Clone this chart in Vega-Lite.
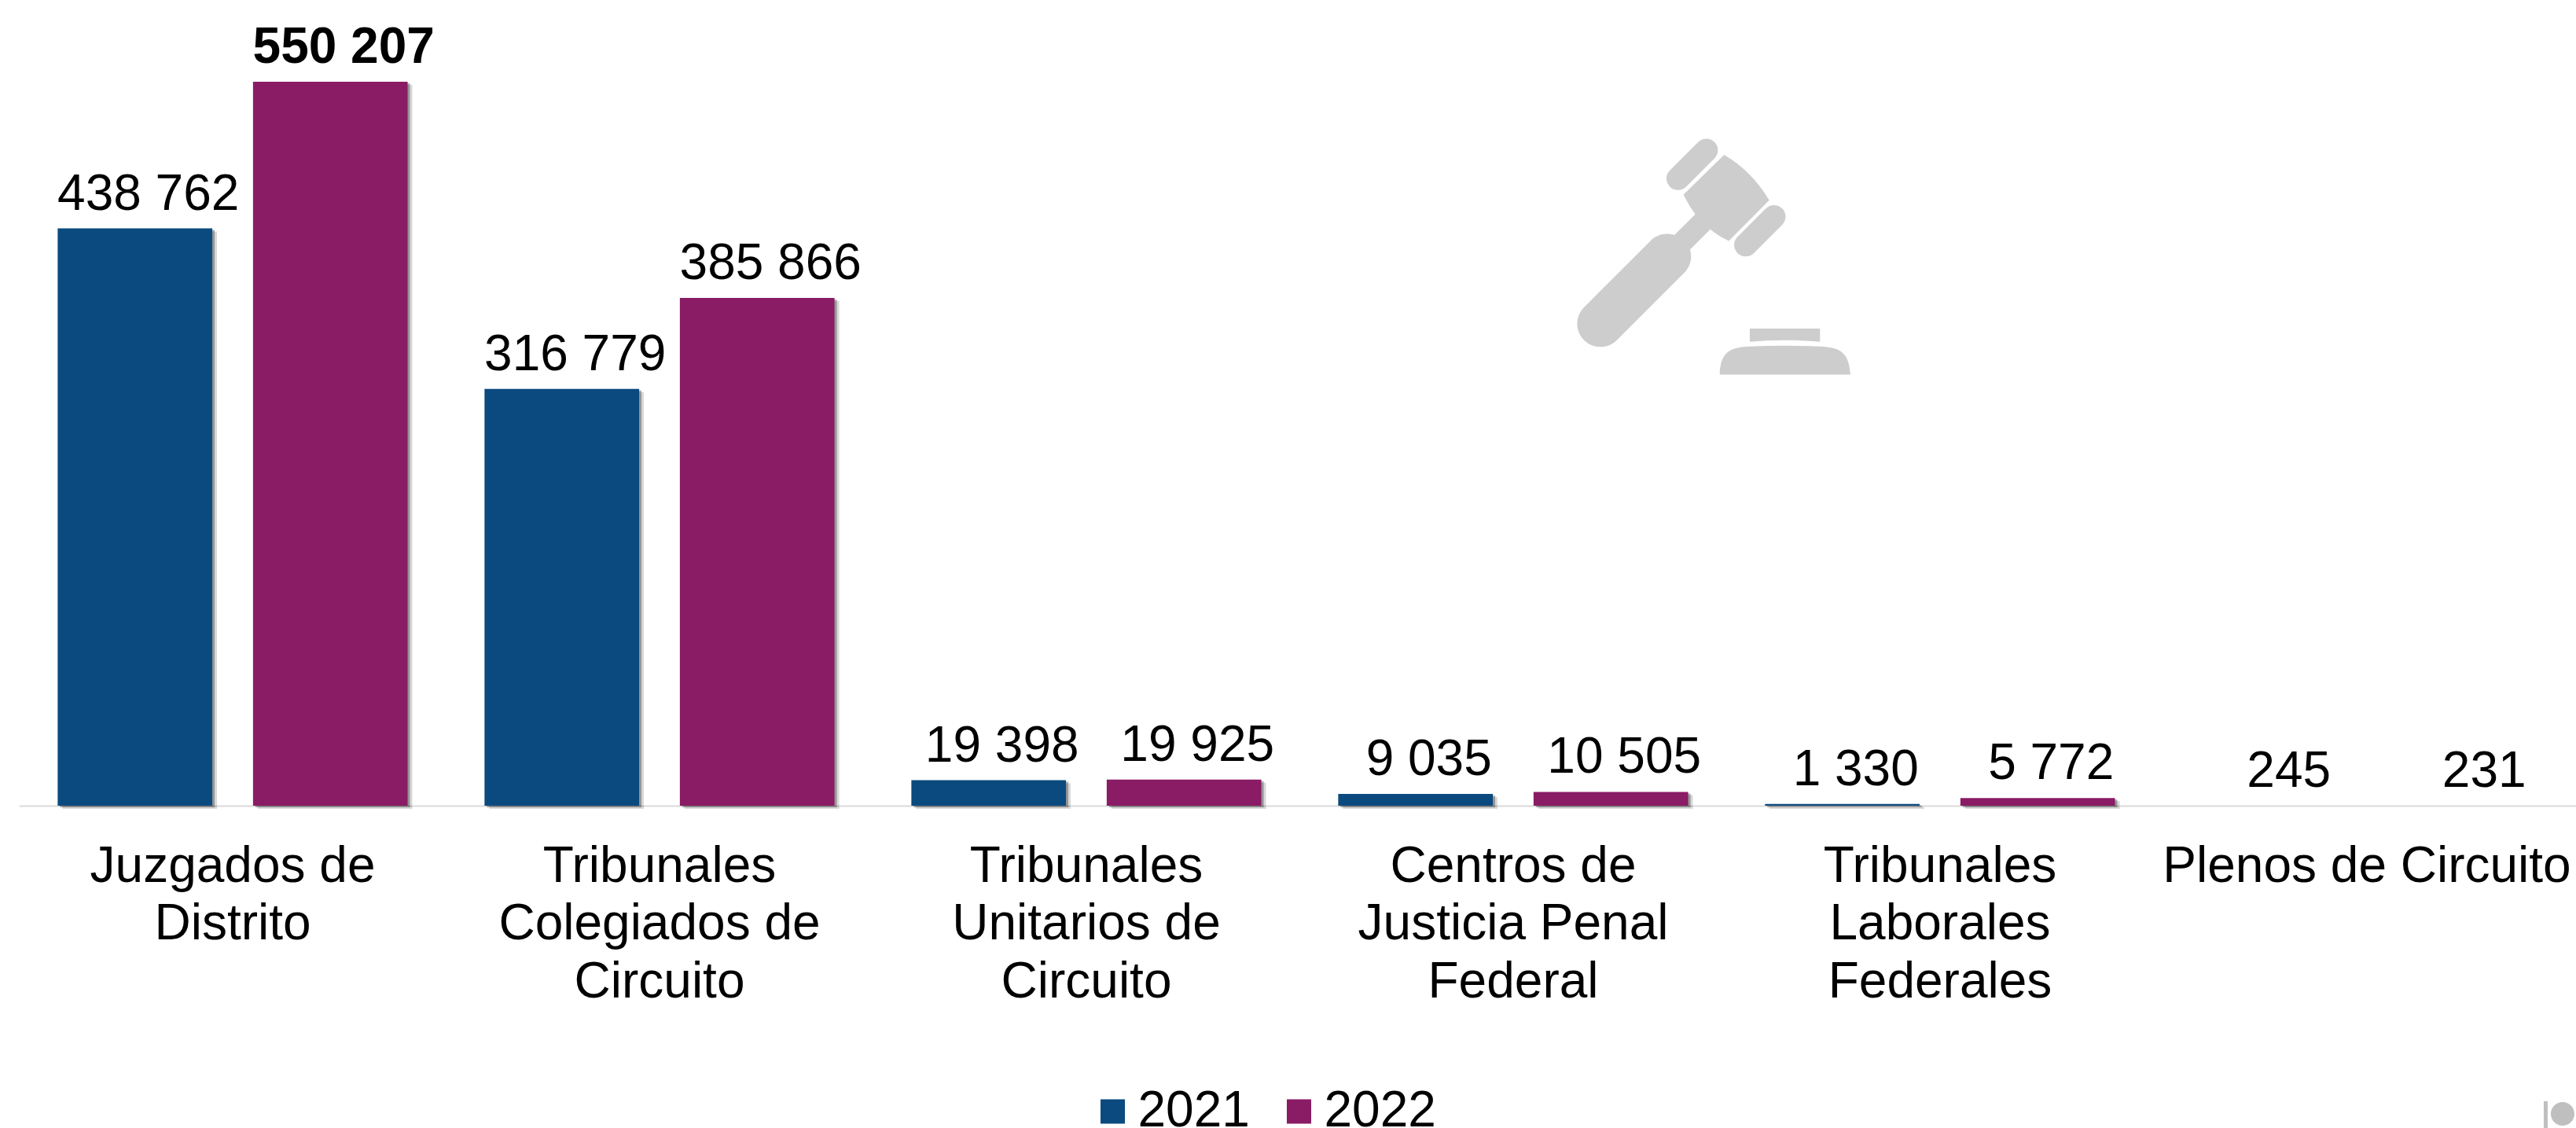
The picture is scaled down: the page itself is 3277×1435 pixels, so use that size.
{
"$schema":"https://vega.github.io/schema/vega-lite/v6.json",
"width":3252.5,"height":1025,
"autosize":{"type":"none"},
"padding":{"left":24.5,"top":0,"right":0,"bottom":410},
"background":"white",
"config":{"view":{"stroke":null},"font":"Liberation Sans"},
"datasets":{"bars":[
{"organo":"Juzgados de Distrito","anio":"2021","valor":438762,"etiqueta":"438 762"},
{"organo":"Juzgados de Distrito","anio":"2022","valor":550207,"etiqueta":"550 207"},
{"organo":"Tribunales Colegiados de Circuito","anio":"2021","valor":316779,"etiqueta":"316 779"},
{"organo":"Tribunales Colegiados de Circuito","anio":"2022","valor":385866,"etiqueta":"385 866"},
{"organo":"Tribunales Unitarios de Circuito","anio":"2021","valor":19398,"etiqueta":"19 398"},
{"organo":"Tribunales Unitarios de Circuito","anio":"2022","valor":19925,"etiqueta":"19 925"},
{"organo":"Centros de Justicia Penal Federal","anio":"2021","valor":9035,"etiqueta":"9 035"},
{"organo":"Centros de Justicia Penal Federal","anio":"2022","valor":10505,"etiqueta":"10 505"},
{"organo":"Tribunales Laborales Federales","anio":"2021","valor":1330,"etiqueta":"1 330"},
{"organo":"Tribunales Laborales Federales","anio":"2022","valor":5772,"etiqueta":"5 772"},
{"organo":"Plenos de Circuito","anio":"2021","valor":245,"etiqueta":"245"},
{"organo":"Plenos de Circuito","anio":"2022","valor":231,"etiqueta":"231"}
]},
"data":{"name":"bars"},
"encoding":{
"x":{"field":"organo","type":"nominal","sort":null,"title":null,
"scale":{"range":[0,3258],"paddingInner":0.18,"paddingOuter":0.09},
"axis":{"labelAngle":0,"labelFontSize":64,"labelColor":"#000000","labelFont":"Liberation Sans","labelLineHeight":73.5,"labelPadding":45,"labelLimit":0,"labelBaseline":"top","ticks":false,"domainColor":"#d9d9d9","domainWidth":2,
"labelExpr":"datum.value=='Juzgados de Distrito'?['Juzgados de','Distrito']:datum.value=='Tribunales Colegiados de Circuito'?['Tribunales','Colegiados de','Circuito']:datum.value=='Tribunales Unitarios de Circuito'?['Tribunales','Unitarios de','Circuito']:datum.value=='Centros de Justicia Penal Federal'?['Centros de','Justicia Penal','Federal']:datum.value=='Tribunales Laborales Federales'?['Tribunales','Laborales','Federales']:datum.value"}},
"y":{"field":"valor","type":"quantitative","scale":{"domain":[0,612300],"nice":false},"axis":null}
},
"resolve":{"scale":{"xOffset":"independent"}},
"layer":[
{"transform":[{"filter":"datum.valor>=1000"}],
 "mark":{"type":"bar","color":"#000000","opacity":0.15,"yOffset":4},
 "encoding":{"xOffset":{"field":"anio","type":"nominal","scale":{"domain":["2021","2022"],"range":[6,451.2],"paddingInner":0.2085,"paddingOuter":0}}}},
{"transform":[{"filter":"datum.valor>=1000"}],
 "mark":{"type":"bar","color":"#000000","opacity":0.3,"yOffset":2},
 "encoding":{"xOffset":{"field":"anio","type":"nominal","scale":{"domain":["2021","2022"],"range":[3,448.2],"paddingInner":0.2085,"paddingOuter":0}}}},
{"transform":[{"filter":"datum.valor>=1000"}],
 "mark":{"type":"bar"},
 "encoding":{"xOffset":{"field":"anio","type":"nominal","scale":{"domain":["2021","2022"],"range":[0,445.2],"paddingInner":0.2085,"paddingOuter":0}},
 "color":{"field":"anio","type":"nominal","scale":{"domain":["2021","2022"],"range":["#0a4a7f","#8a1b65"]},
 "legend":{"title":null,"orient":"none","legendX":1359,"legendY":1382,"direction":"horizontal","symbolType":"square","symbolSize":961,"symbolStrokeWidth":0,"labelFontSize":64,"labelColor":"#000000","labelFont":"Liberation Sans","labelOffset":0,"columnPadding":30}}}},
{"transform":[{"filter":"datum.organo!='Plenos de Circuito' && datum.valor<550000"}],
 "mark":{"type":"text","fontSize":64,"color":"#000000","baseline":"alphabetic","dx":17,"dy":-24},
 "encoding":{"text":{"field":"etiqueta"},"xOffset":{"field":"anio","type":"nominal","scale":{"domain":["2021","2022"],"range":[98.35,346.85],"padding":0}}}},
{"transform":[{"filter":"datum.valor>550000"}],
 "mark":{"type":"text","fontSize":64,"fontWeight":"bold","color":"#000000","baseline":"alphabetic","dx":17,"dy":-24},
 "encoding":{"text":{"field":"etiqueta"},"xOffset":{"field":"anio","type":"nominal","scale":{"domain":["2021","2022"],"range":[98.35,346.85],"padding":0}}}},
{"transform":[{"filter":"datum.organo=='Plenos de Circuito'"}],
 "mark":{"type":"text","fontSize":64,"color":"#000000","baseline":"alphabetic","dx":25,"dy":-24},
 "encoding":{"text":{"field":"etiqueta"},"xOffset":{"field":"anio","type":"nominal","scale":{"domain":["2021","2022"],"range":[98.35,346.85],"padding":0}}}},
{"data":{"values":[{"organo":"Centros de Justicia Penal Federal","valor":300000}]},
 "encoding":{"x":{"field":"organo","type":"nominal","sort":null,"title":null},"xOffset":{"value":197.6},"y":{"field":"valor","type":"quantitative"}},
 "mark":{"type":"point","filled":true,"opacity":1,"size":4,"color":"#cdcdcd","strokeWidth":0,"yOffset":-383,
 "shape":"M260.3,40.9A14.7,14.7 0 0 1 281.1,61.7L245.1,97.7A14.7,14.7 0 0 1 224.3,76.9ZM346.4,125.4A14.7,14.7 0 0 1 367.2,146.2L331.2,182.2A14.7,14.7 0 0 1 310.4,161.4ZM293.3,57.3Q328,77.2 350.7,115L299.3,166.7Q286.7,161 275.7,152L250,177.7A29.5,29.5 0 0 1 240.9,208.9L156.9,292.9A29.5,29.5 0 0 1 115.1,251.1L199.1,167.1A29.5,29.5 0 0 1 230,159.3L256.7,132.7Q248.3,121.7 241.7,107.7ZM326,278.3H415.3V295Q370,291 326,295ZM287.7,336.7C289,310 298,302 326,301Q370,299 415,301C443,302 452,310 454,336.7Z"}},
{"data":{"values":[{"organo":"Plenos de Circuito","valor":0}]},
 "encoding":{"x":{"field":"organo","type":"nominal","sort":null,"title":null},"xOffset":{"value":361.6},"y":{"field":"valor","type":"quantitative"}},
 "mark":{"type":"point","filled":true,"opacity":1,"size":4,"color":"#bfbfbf","strokeWidth":0,"yOffset":335,
 "shape":"M86,41H91V75H86ZM95,57A15,15 0 1 0 125,57A15,15 0 1 0 95,57Z"}}
]
}
